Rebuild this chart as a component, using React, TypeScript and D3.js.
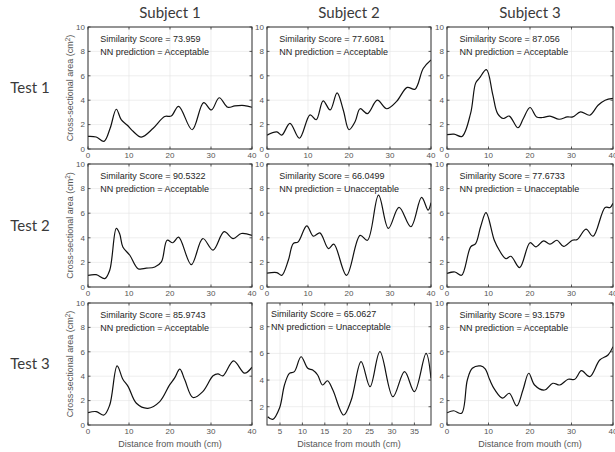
import * as d3 from 'd3'

// Cross-sectional area curves (cm, cm^2)
const t1s1Dist = [0, 2, 3.9, 5.4, 6.9, 8.1, 9.6, 11, 13, 15.9, 18.7, 20.3, 22.1, 25.4, 28.2, 30.1, 32, 34.1, 35.8, 38.2, 40]
const t1s1Area = [1.03, 0.98, 0.63, 1.7, 3.26, 2.4, 1.95, 1.45, 0.98, 1.7, 2.66, 2.7, 3.5, 1.58, 3.8, 3.2, 4.2, 3.42, 3.53, 3.56, 3.42]

const t1s2Dist = [0, 2.4, 3.6, 5.6, 7.9, 10.5, 12, 13.7, 15.4, 17.1, 18.6, 20, 21.5, 22.7, 24.5, 26.9, 29.2, 31.6, 34.2, 36.1, 38.1, 40]
const t1s2Area = [1.14, 1.4, 1.14, 2.1, 0.88, 2.8, 2.4, 3.95, 3.2, 4.6, 3.2, 1.58, 2.25, 3.3, 2.9, 4.0, 3.3, 3.9, 5.05, 4.9, 6.6, 7.3]

const t1s3Dist = [0, 1.7, 3.6, 5.7, 6.9, 7.8, 9.5, 11, 12.2, 13.6, 15, 17.1, 18.4, 20, 21.6, 23, 24.8, 27, 29, 30.3, 32.2, 34.4, 36.4, 38.1, 40]
const t1s3Area = [1.17, 1.22, 1.03, 2.94, 5.4, 5.8, 6.5, 4.5, 2.9, 2.5, 2.7, 1.74, 2.5, 3.4, 2.63, 2.58, 2.7, 2.44, 2.63, 2.63, 3.04, 2.77, 3.59, 4.0, 4.15]

const t2s1Dist = [0, 2, 4.1, 5.3, 6.9, 7.7, 8.5, 10.2, 12.2, 14.2, 16.3, 17.9, 19.3, 20.7, 22.1, 25.2, 28, 30.5, 33.2, 35.4, 37.4, 40]
const t2s1Area = [0.95, 1.0, 0.68, 1.36, 4.76, 4.35, 3.26, 2.58, 1.49, 1.53, 1.63, 2.04, 3.8, 3.6, 4.05, 1.82, 3.94, 3.0, 4.5, 3.94, 4.35, 4.2]

const t2s2Dist = [0, 2.4, 3.6, 5.2, 6.4, 7.6, 9.7, 11.3, 12.9, 15, 16.3, 19.4, 22.7, 24.5, 27.2, 29.6, 32.2, 35.1, 37.7, 39.3, 40]
const t2s2Area = [1.12, 1.17, 0.95, 2.17, 3.53, 3.67, 4.97, 4.13, 4.4, 3.12, 3.48, 0.95, 4.2, 3.8, 7.47, 4.76, 6.47, 4.9, 7.28, 6.25, 6.85]

const t2s3Dist = [0, 1.9, 3.5, 5.7, 6.9, 8.1, 9.4, 11.4, 12.6, 14.2, 15.4, 17.5, 20, 21.4, 23.3, 24.8, 26.5, 28.1, 30.2, 31.4, 33.5, 35.2, 38.1, 39.3, 40]
const t2s3Area = [1.1, 1.22, 0.95, 3.26, 3.53, 4.9, 6.05, 3.8, 2.99, 2.3, 2.5, 1.58, 3.6, 3.26, 3.75, 3.48, 3.8, 3.3, 3.8, 3.86, 4.7, 4.13, 6.47, 6.47, 6.8]

const t3s1Dist = [0, 2, 3.9, 5.3, 7.1, 8.5, 9.8, 11.8, 14.6, 17.5, 19.9, 21.1, 22.4, 23.6, 25.6, 28, 30.5, 31.7, 32.9, 35.5, 38.2, 40]
const t3s1Area = [1.01, 1.1, 0.82, 1.64, 4.85, 3.75, 3.15, 1.78, 1.37, 1.92, 3.29, 3.84, 4.58, 3.7, 2.25, 2.74, 4.03, 4.19, 4.03, 5.26, 4.25, 4.74]

const t3s2Dist = [2.25, 3.4, 4.9, 6.0, 7.1, 8.2, 9.7, 11.2, 12.3, 13.4, 14.5, 15.6, 16.8, 19.2, 20.9, 23.1, 25.1, 27.3, 30.2, 32.8, 35, 37.6, 38.7]
const t3s2Area = [1.25, 1.05, 1.9, 3.63, 4.5, 4.63, 5.75, 4.88, 4.75, 4.38, 3.63, 3.95, 3.25, 1.38, 2.5, 5.38, 3.5, 6.13, 2.75, 4.63, 3.13, 6.0, 4.13]

const t3s3Dist = [0, 1.6, 3.5, 4.9, 6.1, 8.1, 9.2, 10.3, 11.5, 13.4, 15, 16.8, 18.3, 19.7, 21.1, 23.5, 25.5, 27.2, 29.2, 30.8, 32.4, 34.4, 36.8, 38.8, 40]
const t3s3Area = [1.0, 1.17, 0.96, 3.69, 4.65, 4.84, 4.6, 3.7, 2.9, 2.2, 2.6, 1.56, 2.87, 4.24, 3.28, 2.87, 3.42, 3.28, 3.75, 3.75, 4.45, 3.96, 5.33, 5.74, 6.42]

const subjects = ['Subject 1', 'Subject 2', 'Subject 3']
const tests = ['Test 1', 'Test 2', 'Test 3']
const scores = [
  ['73.959', '77.6081', '87.056'],
  ['90.5322', '66.0499', '77.6733'],
  ['85.9743', '65.0627', '93.1579'],
]
const predictions = [
  ['Acceptable', 'Acceptable', 'Acceptable'],
  ['Acceptable', 'Unacceptable', 'Unacceptable'],
  ['Acceptable', 'Unacceptable', 'Acceptable'],
]

const defaultXTicks = [0, 10, 20, 30, 40]
const defaultYTicks = [0, 2, 4, 6, 8, 10]
const zoomedXTicks = [5, 10, 15, 20, 25, 30, 35]
const zoomedYTicks = [2, 4, 6, 8]

const curves = [
  [[t1s1Dist, t1s1Area], [t1s2Dist, t1s2Area], [t1s3Dist, t1s3Area]],
  [[t2s1Dist, t2s1Area], [t2s2Dist, t2s2Area], [t2s3Dist, t2s3Area]],
  [[t3s1Dist, t3s1Area], [t3s2Dist, t3s2Area], [t3s3Dist, t3s3Area]],
]

const width = 615
const height = 452
const cols = [[88, 252], [267, 431], [447, 613]]
const rows = [[27, 149], [164, 287], [303, 425]]

const tickFont = '"Liberation Sans", Arial, sans-serif'
const titleFont = 'Lato, "Open Sans", sans-serif'

function Panel({ r, c }: { r: number; c: number }) {
  const [x0, x1] = cols[c]
  const [y0, y1] = rows[r]
  const special = r === 2 && c === 1
  const x = d3.scaleLinear().domain(special ? [2.1, 38.7] : [0, 40]).range([x0, x1])
  const y = d3.scaleLinear().domain(special ? [0.63, 9.78] : [0, 10]).range([y1, y0])
  const xTicks = special ? zoomedXTicks : defaultXTicks
  const yTicks = special ? zoomedYTicks : defaultYTicks
  const [dist, area] = curves[r][c]
  const pts = dist.map((d, i) => [d, area[i]] as [number, number])
  const line = d3
    .line<[number, number]>()
    .x((d) => x(d[0]))
    .y((d) => y(d[1]))
    .curve(d3.curveCatmullRom.alpha(0.5))
  const clipId = `clip-${r}-${c}`
  const tl = 2.5

  return (
    <g>
      <defs>
        <clipPath id={clipId}>
          <rect x={x0} y={y0} width={x1 - x0} height={y1 - y0} />
        </clipPath>
      </defs>
      <rect x={x0} y={y0} width={x1 - x0} height={y1 - y0} fill="#fff" />
      {/* grid */}
      {xTicks.map((t) => (
        <line key={'gx' + t} x1={x(t)} x2={x(t)} y1={y0} y2={y1} stroke="#e3e3e3" strokeWidth={0.6} />
      ))}
      {yTicks.map((t) => (
        <line key={'gy' + t} x1={x0} x2={x1} y1={y(t)} y2={y(t)} stroke="#e3e3e3" strokeWidth={0.6} />
      ))}
      <text x={x(3)} y={y(9)} dy="0.35em" fontFamily={tickFont} fontSize={9} fill="#262626">
        Similarity Score = {scores[r][c]}
      </text>
      <text x={x(3)} y={y(8)} dy="0.35em" fontFamily={tickFont} fontSize={9} fill="#262626">
        NN prediction = {predictions[r][c]}
      </text>
      <path d={line(pts) || ''} fill="none" stroke="#111" strokeWidth={1.2} clipPath={`url(#${clipId})`} />
      {/* ticks, inward on all sides */}
      {xTicks.map((t) => (
        <g key={'tx' + t}>
          <line x1={x(t)} x2={x(t)} y1={y1} y2={y1 - tl} stroke="#333" strokeWidth={0.8} />
          <line x1={x(t)} x2={x(t)} y1={y0} y2={y0 + tl} stroke="#333" strokeWidth={0.8} />
          <text x={x(t)} y={y1 + 8.5} textAnchor="middle" fontFamily={tickFont} fontSize={8} fill="#555">
            {t}
          </text>
        </g>
      ))}
      {yTicks.map((t) => (
        <g key={'ty' + t}>
          <line x1={x0} x2={x0 + tl} y1={y(t)} y2={y(t)} stroke="#333" strokeWidth={0.8} />
          <line x1={x1} x2={x1 - tl} y1={y(t)} y2={y(t)} stroke="#333" strokeWidth={0.8} />
          <text x={x0 - 3} y={y(t)} dy="0.35em" textAnchor="end" fontFamily={tickFont} fontSize={8} fill="#555">
            {t}
          </text>
        </g>
      ))}
      <rect x={x0} y={y0} width={x1 - x0} height={y1 - y0} fill="none" stroke="#333" strokeWidth={1} />
    </g>
  )
}

export default function App() {
  return (
    <svg
      width={width}
      height={height}
      style={{ position: 'absolute', left: 0, top: 0, background: '#fff' }}
    >
      {subjects.map((s, c) => (
        <text
          key={s}
          x={(cols[c][0] + cols[c][1]) / 2}
          y={18}
          textAnchor="middle"
          fontFamily={titleFont}
          fontSize={15}
          fill="#3a3a3a"
        >
          {s}
        </text>
      ))}
      {tests.map((t, r) => {
        const cy = (rows[r][0] + rows[r][1]) / 2
        return (
          <g key={t}>
            <text x={30} y={cy + 5} textAnchor="middle" fontFamily={titleFont} fontSize={15} fill="#3a3a3a">
              {t}
            </text>
            <text
              transform={`translate(73,${cy}) rotate(-90)`}
              textAnchor="middle"
              fontFamily={tickFont}
              fontSize={9}
              fill="#555"
            >
              Cross-sectional area (cm<tspan dy={-3} fontSize={6.5}>2</tspan>
              <tspan dy={3}>)</tspan>
            </text>
          </g>
        )
      })}
      {rows.map((_, r) => cols.map((__, c) => <Panel key={`${r}-${c}`} r={r} c={c} />))}
      {cols.map((col, c) => (
        <text
          key={'xl' + c}
          x={(col[0] + col[1]) / 2}
          y={447}
          textAnchor="middle"
          fontFamily={tickFont}
          fontSize={9}
          fill="#555"
        >
          Distance from mouth (cm)
        </text>
      ))}
    </svg>
  )
}
